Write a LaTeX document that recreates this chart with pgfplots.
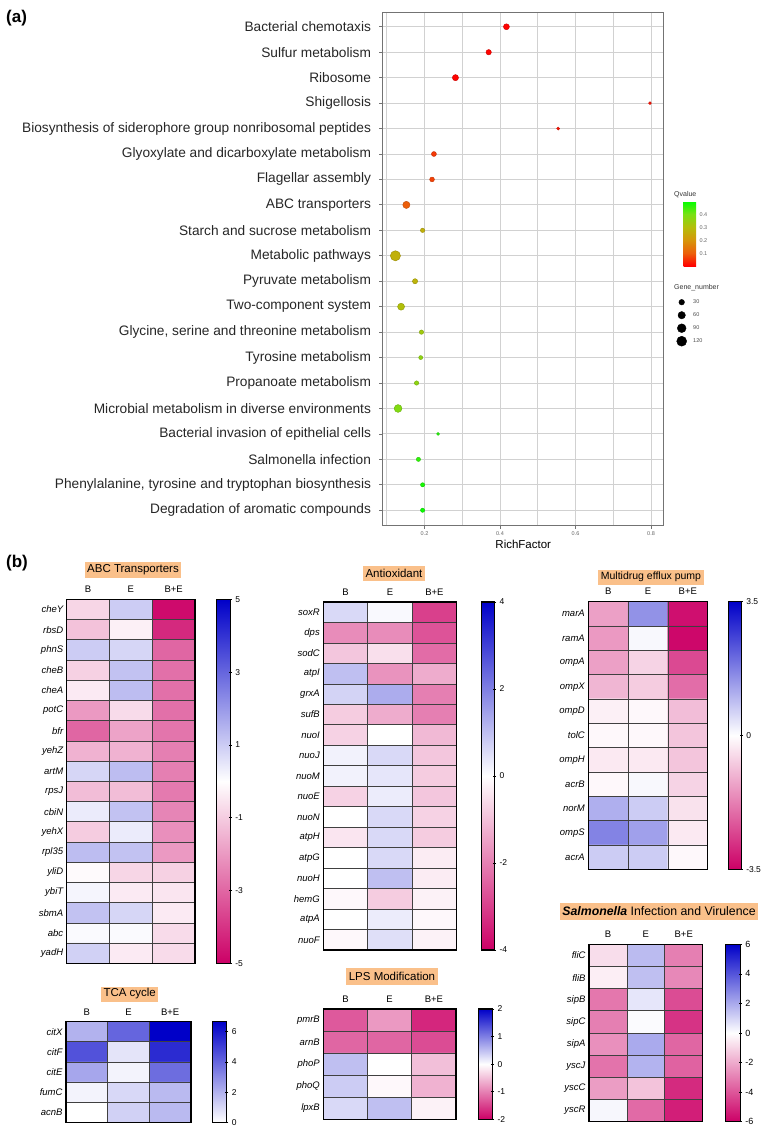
\documentclass[border=0pt]{standalone}
\usepackage{fontspec}
\setmainfont{Liberation Sans}
\usepackage{pgfplots}
\pgfplotsset{compat=1.18}
\definecolor{ttl}{RGB}{250,192,138}
\pgfplotsset{
 colormap={pmb}{rgb255=(204,0,102) rgb255=(255,255,255) rgb255=(0,0,200)},
 colormap={wb}{rgb255=(255,255,255) rgb255=(0,0,200)},
 colormap={qv}{rgb255=(255,0,0) rgb255=(236,96,10) rgb255=(214,150,10) rgb255=(180,190,10) rgb255=(120,225,20) rgb255=(0,255,0)},
 /pgf/number format/assume math mode=true,
 hm/.style={
   scale only axis, anchor=north west, y dir=reverse,
   xmin=-0.5, xmax=2.5, ymin=-0.5,
   xtick={0,1,2}, xticklabels={B,E,B+E}, xticklabel pos=upper,
   major tick length=0pt, minor tick length=0pt,
   minor xtick={0.5,1.5}, minor ytick={0.5,1.5,...,29.5},
   xminorgrids=true, yminorgrids=true,
   minor grid style={black!75, line width=0.7pt},
   axis on top,
   axis line style={black, line width=1.3pt},
   xticklabel style={font=\fontsize{9.5}{11}\selectfont, yshift=3pt},
   yticklabel style={font=\fontsize{9.5}{11}\selectfont\itshape},
   colormap name=pmb,
   colorbar,
   colorbar style={scale only axis, at={(parent axis.north east)}, anchor=north west,
     axis line style={black, line width=1.2pt},
     tick align=center, major tick length=3pt, tick style={black, line width=0.7pt},
     yticklabel style={font=\fontsize{8.5}{10}\selectfont},
     ytick pos=right, yticklabel pos=right},
 },
}
\begin{document}
\begin{tikzpicture}
\useasboundingbox (0,0) rectangle (762pt,-1128pt);

% ---------------- panel (a)
\begin{axis}[
  scale only axis, at={(383pt,-12pt)}, anchor=north west,
  width=280.5pt, height=513pt,
  xmin=0.0901, xmax=0.833, ymin=0.42, ymax=20.58, y dir=reverse,
  xtick={0.2,0.4,0.6,0.8}, xticklabels={0.2,0.4,0.6,0.8},
  minor xtick={0.1,0.3,0.5,0.7},
  ytick={1,...,20},
  yticklabels={Bacterial chemotaxis,Sulfur metabolism,Ribosome,Shigellosis,Biosynthesis of siderophore group nonribosomal peptides,Glyoxylate and dicarboxylate metabolism,Flagellar assembly,ABC transporters,Starch and sucrose metabolism,Metabolic pathways,Pyruvate metabolism,Two-component system,{Glycine, serine and threonine metabolism},Tyrosine metabolism,Propanoate metabolism,Microbial metabolism in diverse environments,Bacterial invasion of epithelial cells,Salmonella infection,{Phenylalanine, tyrosine and tryptophan biosynthesis},Degradation of aromatic compounds},
  grid=both,
  major grid style={black!18, line width=1pt},
  minor grid style={black!18, line width=1pt},
  axis line style={black!55, line width=1pt},
  tick style={black!55, line width=0.8pt},
  major tick length=3.5pt, minor tick length=0pt, tick align=outside,
  xtick pos=bottom, ytick pos=left,
  yticklabel style={font=\fontsize{13.7}{15}\selectfont, text=black!85, xshift=-5pt},
  xticklabel style={font=\fontsize{5.5}{6}\selectfont, text=black!60},
  xlabel={RichFactor}, xlabel style={font=\fontsize{11.5}{13}\selectfont, yshift=3pt},
  colormap name=qv, point meta min=0, point meta max=0.51,
  colorbar,
  colorbar style={scale only axis, at={(parent axis.north east)}, anchor=north west,
    xshift=11.5pt, yshift=-189pt, width=12.5pt, height=65pt,
    ytick={0.1,0.2,0.3,0.4}, yticklabels={0.1,0.2,0.3,0.4},
    axis line style={draw=none}, major tick length=0pt,
    yticklabel style={font=\fontsize{5.5}{6}\selectfont, text=black!60},
    ytick pos=right, yticklabel pos=right},
  legend style={at={(1,1)}, anchor=north west, xshift=12.5pt, yshift=-285pt,
    draw=none, fill=none, font=\fontsize{5.5}{6}\selectfont, text=black!70,
    row sep=3pt, column sep=6pt, inner sep=0pt, nodes={inner sep=0pt}},
  legend cell align=left,
  legend image code/.code={\path[draw=none, fill=none] (0pt,-5pt) rectangle (11pt,5pt); \path[#1, draw=none] plot coordinates {(5.5pt,0pt)};},
]
\addplot[scatter, only marks, mark=*, forget plot, point meta=explicit,
  visualization depends on={\thisrow{n} \as \gn},
  scatter/@pre marker code/.append style={/tikz/mark size={sqrt(2+0.19*\gn)}}]
  table[x=x, y=y, meta=q]{
x y q n
0.417 1 0.003 37
0.370 2 0.004 28
0.282 3 0.003 40
0.797 4 0.02 1
0.554 5 0.02 2
0.225 6 0.06 22
0.220 7 0.07 20
0.152 8 0.10 58
0.195 9 0.27 15
0.123 10 0.27 126
0.175 11 0.28 25
0.138 12 0.31 54
0.192 13 0.34 15
0.190 14 0.37 11
0.179 15 0.37 15
0.130 16 0.39 70
0.236 17 0.48 1
0.184 18 0.47 13
0.195 19 0.49 13
0.195 20 0.50 13
};
\addlegendimage{only marks, mark=*, black, mark options={draw=black, fill=black}, mark size=2.8pt}
\addlegendentry{30}
\addlegendimage{only marks, mark=*, black, mark options={draw=black, fill=black}, mark size=3.7pt}
\addlegendentry{60}
\addlegendimage{only marks, mark=*, black, mark options={draw=black, fill=black}, mark size=4.4pt}
\addlegendentry{90}
\addlegendimage{only marks, mark=*, black, mark options={draw=black, fill=black}, mark size=5pt}
\addlegendentry{120}
\end{axis}
\node[anchor=west, font=\fontsize{7}{8}\selectfont, text=black!80, inner sep=0pt] at (674pt,-195pt) {Qvalue};
\node[anchor=west, font=\fontsize{7}{8}\selectfont, text=black!80, inner sep=0pt] at (674pt,-288pt) {Gene\_number};

% ---------------- ABC transporters
\begin{axis}[hm, at={(66.7pt,-599.3pt)}, width=128.3pt, height=364pt,
  ymax=17.5, ytick={0,...,17},
  yticklabels={cheY,rbsD,phnS,cheB,cheA,potC,bfr,yehZ,artM,rpsJ,cbiN,yehX,rpl35,yliD,ybiT,sbmA,abc,yadH},
  point meta min=-5, point meta max=5,
  colorbar style={xshift=13.3pt, width=13.4pt, height=364pt,
    ytick={-5,-3,-1,1,3,5}, yticklabels={-5,-3,-1,1,3,5}}]
\addplot[matrix plot*, mesh/cols=3, point meta=explicit] table[meta=v, row sep=\\]{
x y v\\
0 0 -0.8\\ 1 0 1.0\\ 2 0 -4.8\\
0 1 -1.2\\ 1 1 -0.3\\ 2 1 -4.2\\
0 2 1.0\\ 1 2 0.8\\ 2 2 -3.0\\
0 3 -0.9\\ 1 3 1.2\\ 2 3 -2.8\\
0 4 -0.4\\ 1 4 1.3\\ 2 4 -2.8\\
0 5 -2.0\\ 1 5 -0.7\\ 2 5 -2.8\\
0 6 -3.0\\ 1 6 -1.8\\ 2 6 -2.7\\
0 7 -1.5\\ 1 7 -1.5\\ 2 7 -2.5\\
0 8 0.8\\ 1 8 1.3\\ 2 8 -2.5\\
0 9 -1.3\\ 1 9 -1.3\\ 2 9 -2.6\\
0 10 0.4\\ 1 10 1.2\\ 2 10 -2.4\\
0 11 -1.0\\ 1 11 0.4\\ 2 11 -2.2\\
0 12 1.3\\ 1 12 1.2\\ 2 12 -2.0\\
0 13 -0.1\\ 1 13 -0.8\\ 2 13 -0.9\\
0 14 0.2\\ 1 14 -0.4\\ 2 14 -0.5\\
0 15 1.2\\ 1 15 0.8\\ 2 15 -0.4\\
0 16 0.1\\ 1 16 0.1\\ 2 16 -0.7\\
0 17 0.9\\ 1 17 -0.4\\ 2 17 -0.7\\
};
\end{axis}

% ---------------- Antioxidant
\begin{axis}[hm, at={(323.3pt,-602pt)}, width=133.4pt, height=348pt,
  ymax=16.5, ytick={0,...,16},
  yticklabels={soxR,dps,sodC,atpI,grxA,sufB,nuoI,nuoJ,nuoM,nuoE,nuoN,atpH,atpG,nuoH,hemG,atpA,nuoF},
  point meta min=-4, point meta max=4,
  colorbar style={xshift=16pt, width=13.3pt, height=348pt,
    ytick={-4,-2,0,2,4}, yticklabels={-4,-2,0,2,4}}]
\addplot[matrix plot*, mesh/cols=3, point meta=explicit] table[meta=v, row sep=\\]{
x y v\\
0 0 0.6\\ 1 0 0.1\\ 2 0 -3.0\\
0 1 -1.8\\ 1 1 -1.8\\ 2 1 -2.7\\
0 2 -0.9\\ 1 2 -0.5\\ 2 2 -2.3\\
0 3 1.0\\ 1 3 -1.7\\ 2 3 -1.3\\
0 4 0.7\\ 1 4 1.3\\ 2 4 -2.0\\
0 5 -0.8\\ 1 5 -1.3\\ 2 5 -2.0\\
0 6 -0.7\\ 1 6 0.0\\ 2 6 -1.1\\
0 7 0.2\\ 1 7 0.6\\ 2 7 -0.9\\
0 8 0.2\\ 1 8 0.4\\ 2 8 -0.8\\
0 9 -0.7\\ 1 9 0.3\\ 2 9 -0.9\\
0 10 0.0\\ 1 10 0.6\\ 2 10 -0.7\\
0 11 -0.4\\ 1 11 0.6\\ 2 11 -0.8\\
0 12 0.0\\ 1 12 0.6\\ 2 12 -0.3\\
0 13 0.0\\ 1 13 1.0\\ 2 13 -0.3\\
0 14 -0.1\\ 1 14 -0.8\\ 2 14 -0.2\\
0 15 0.0\\ 1 15 0.3\\ 2 15 -0.1\\
0 16 -0.1\\ 1 16 0.5\\ 2 16 -0.2\\
};
\end{axis}

% ---------------- Multidrug efflux pump
\begin{axis}[hm, at={(588.3pt,-601.5pt)}, width=119.4pt, height=267.8pt,
  ymax=10.5, ytick={0,...,10},
  yticklabels={marA,ramA,ompA,ompX,ompD,tolC,ompH,acrB,norM,ompS,acrA},
  point meta min=-3.5, point meta max=3.5,
  colorbar style={xshift=12.3pt, width=12.7pt, height=267.8pt,
    ytick={-3.5,0,3.5}, yticklabels={-3.5,0,3.5}}]
\addplot[matrix plot*, mesh/cols=3, point meta=explicit] table[meta=v, row sep=\\]{
x y v\\
0 0 -1.3\\ 1 0 1.5\\ 2 0 -3.3\\
0 1 -1.4\\ 1 1 0.1\\ 2 1 -3.4\\
0 2 -1.3\\ 1 2 -0.6\\ 2 2 -2.5\\
0 3 -1.0\\ 1 3 -0.7\\ 2 3 -2.0\\
0 4 -0.2\\ 1 4 -0.1\\ 2 4 -0.9\\
0 5 -0.1\\ 1 5 -0.1\\ 2 5 -0.8\\
0 6 -0.3\\ 1 6 -0.3\\ 2 6 -0.8\\
0 7 -0.1\\ 1 7 0.1\\ 2 7 -0.6\\
0 8 1.1\\ 1 8 0.7\\ 2 8 -0.4\\
0 9 1.7\\ 1 9 1.3\\ 2 9 -0.3\\
0 10 0.7\\ 1 10 0.7\\ 2 10 -0.1\\
};
\end{axis}

% ---------------- Salmonella infection and virulence
\begin{axis}[hm, at={(589pt,-944.3pt)}, width=113.7pt, height=177.4pt,
  ymax=7.5, ytick={0,...,7},
  yticklabels={fliC,fliB,sipB,sipC,sipA,yscJ,yscC,yscR},
  point meta min=-6, point meta max=6,
  colorbar style={xshift=14.6pt, width=14.4pt, height=177.4pt,
    ytick={-6,-4,-2,0,2,4,6}, yticklabels={-6,-4,-2,0,2,4,6},
    yticklabel style={font=\fontsize{9}{10}\selectfont}}]
\addplot[matrix plot*, mesh/cols=3, point meta=explicit] table[meta=v, row sep=\\]{
x y v\\
0 0 -0.8\\ 1 0 1.6\\ 2 0 -3.0\\
0 1 -0.4\\ 1 1 1.5\\ 2 1 -2.8\\
0 2 -3.2\\ 1 2 0.6\\ 2 2 -4.2\\
0 3 -3.0\\ 1 3 0.1\\ 2 3 -4.8\\
0 4 -2.6\\ 1 4 2.0\\ 2 4 -3.6\\
0 5 -3.3\\ 1 5 1.8\\ 2 5 -3.7\\
0 6 -2.3\\ 1 6 -1.4\\ 2 6 -5.0\\
0 7 0.2\\ 1 7 -3.5\\ 2 7 -5.3\\
};
\end{axis}

% ---------------- TCA cycle
\begin{axis}[hm, at={(66pt,-1021.7pt)}, width=125pt, height=100.6pt,
  ymax=4.5, ytick={0,...,4},
  yticklabels={citX,citF,citE,fumC,acnB},
  colormap name=wb, point meta min=0, point meta max=6.67,
  colorbar style={xshift=13pt, width=14.3pt, height=100.6pt,
    ytick={0,2,4,6}, yticklabels={0,2,4,6}}]
\addplot[matrix plot*, mesh/cols=3, point meta=explicit] table[meta=v, row sep=\\]{
x y v\\
0 0 2.0\\ 1 0 4.0\\ 2 0 6.7\\
0 1 4.5\\ 1 1 0.7\\ 2 1 5.5\\
0 2 2.3\\ 1 2 0.3\\ 2 2 3.8\\
0 3 0.3\\ 1 3 1.0\\ 2 3 1.8\\
0 4 0.0\\ 1 4 1.2\\ 2 4 1.8\\
};
\end{axis}

% ---------------- LPS modification
\begin{axis}[hm, at={(323.3pt,-1009pt)}, width=132.7pt, height=110.3pt,
  ymax=4.5, ytick={0,...,4},
  yticklabels={pmrB,arnB,phoP,phoQ,lpxB},
  point meta min=-2, point meta max=2,
  colorbar style={xshift=14pt, width=14pt, height=110.3pt,
    ytick={-2,-1,0,1,2}, yticklabels={-2,-1,0,1,2}}]
\addplot[matrix plot*, mesh/cols=3, point meta=explicit] table[meta=v, row sep=\\]{
x y v\\
0 0 -1.3\\ 1 0 -0.8\\ 2 0 -1.7\\
0 1 -1.2\\ 1 1 -1.2\\ 2 1 -1.4\\
0 2 0.5\\ 1 2 0.0\\ 2 2 -0.5\\
0 3 0.4\\ 1 3 -0.05\\ 2 3 -0.6\\
0 4 0.3\\ 1 4 0.5\\ 2 4 -0.1\\
};
\end{axis}

% ---------------- titles and panel labels
\node[anchor=west, font=\bfseries\fontsize{17}{20}\selectfont, inner sep=0pt] at (6pt,-18pt) {(a)};
\node[anchor=west, font=\bfseries\fontsize{17}{20}\selectfont, inner sep=0pt] at (6pt,-563pt) {(b)};
\tikzset{ttlbox/.style={fill=ttl, inner xsep=2.5pt, inner ysep=0pt, minimum height=15.5pt, font=\fontsize{11.5}{13}\selectfont}}
\node[ttlbox] at (133pt,-570pt) {ABC Transporters};
\node[ttlbox] at (394pt,-573.3pt) {Antioxidant};
\node[ttlbox, font=\fontsize{10.5}{12}\selectfont, minimum height=15pt, inner xsep=3pt] at (651pt,-577pt) {Multidrug efflux pump};
\node[ttlbox, minimum height=15pt] at (129.7pt,-994pt) {TCA cycle};
\node[ttlbox, minimum height=16.5pt] at (392pt,-976.7pt) {LPS Modification};
\node[ttlbox, font=\fontsize{12.3}{14}\selectfont, minimum height=17.3pt] at (659pt,-911.3pt) {{\bfseries\itshape Salmonella} Infection and Virulence};
\end{tikzpicture}
\end{document}
